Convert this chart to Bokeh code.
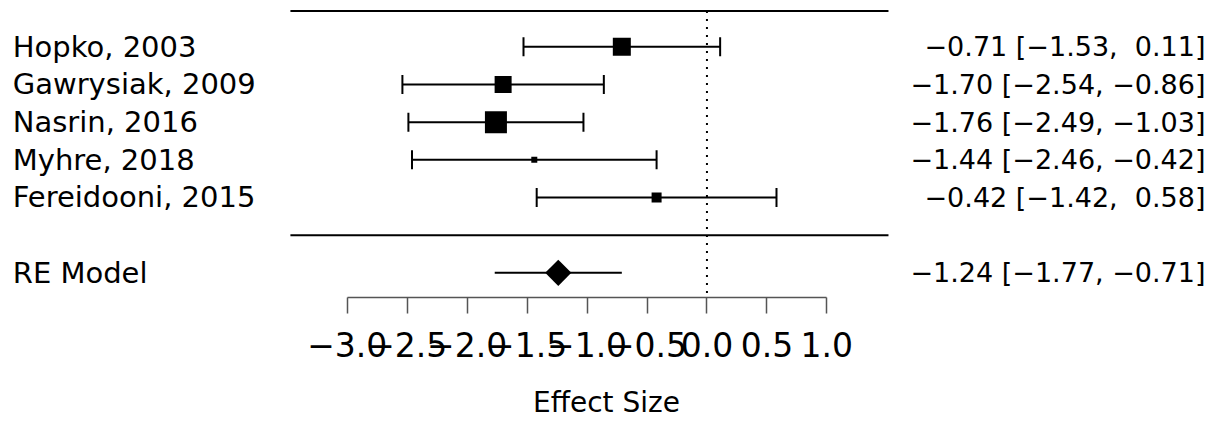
import numpy as np
from bokeh.plotting import figure
from bokeh.models import Range1d, LinearAxis, FixedTicker, CustomJSTickFormatter, ColumnDataSource
from bokeh.core.properties import value
from bokeh.embed import file_html
from bokeh.resources import INLINE

# ---- data ----
studies = ["Hopko, 2003", "Gawrysiak, 2009", "Nasrin, 2016", "Myhre, 2018", "Fereidooni, 2015"]
estimate = [-0.71, -1.70, -1.76, -1.44, -0.42]
ci_lower = [-1.53, -2.54, -2.49, -2.46, -1.42]
ci_upper = [0.11, -0.86, -1.03, -0.42, 0.58]
box_weight = [18, 17, 22, 6, 10]   # relative box sizes

model_label = "RE Model"
model_est = -1.24
model_lower = -1.77
model_upper = -0.71

x_ticks = [-3.0, -2.5, -2.0, -1.5, -1.0, -0.5, 0.0, 0.5, 1.0]
x_title = "Effect Size"

# ---- layout constants ----
FONT = "DejaVu Sans"
W, H = 1212, 421
FRAME_H = 297
k = len(studies)
rows = list(range(k, 0, -1))
model_row = -1
TOP_ROW = k + 0.95
SEP_ROW = 0
Y_TOP = 6.229
Y_BOT = Y_TOP - FRAME_H / 37.67
X_LEFT = -5.892
X_RIGHT = X_LEFT + W / 119.9
LINE_X0, LINE_X1 = -3.474, 1.514
LABEL_X = -5.79
RIGHT_X = 4.158

def fmt(v, width=5):
    s = f"{v:.2f}".replace("-", "\u2212")
    return "\u00a0" * (width - len(s)) + s

right_text = [f"{fmt(e)} [{fmt(l)}, {fmt(u)}]" for e, l, u in zip(estimate, ci_lower, ci_upper)]
model_text = f"{fmt(model_est)} [{fmt(model_lower)}, {fmt(model_upper)}]"

p = figure(width=W, height=H, output_backend="svg", toolbar_location=None,
           x_range=Range1d(X_LEFT, X_RIGHT), y_range=Range1d(Y_BOT, Y_TOP),
           min_border_left=0, min_border_right=0, min_border_top=0, min_border_bottom=H - FRAME_H,
           x_axis_location=None, y_axis_location=None)
p.outline_line_color = None
p.xgrid.visible = False
p.ygrid.visible = False
p.background_fill_color = "white"
p.border_fill_color = "white"

src = ColumnDataSource(dict(study=studies, est=estimate, lb=ci_lower, ub=ci_upper,
                            row=rows, size=box_weight, rtext=right_text))

# horizontal rules
p.segment(x0=[LINE_X0, LINE_X0], x1=[LINE_X1, LINE_X1], y0=[TOP_ROW, SEP_ROW], y1=[TOP_ROW, SEP_ROW],
          line_color="black", line_width=2)
# reference line at 0
p.segment(x0=[0], x1=[0], y0=[TOP_ROW], y1=[Y_BOT], line_color="black", line_width=2, line_dash="2 6")

# CIs
p.segment(x0="lb", x1="ub", y0="row", y1="row", source=src, line_color="black", line_width=2)
p.scatter(x="lb", y="row", source=src, marker="dash", angle=np.pi / 2, size=19, line_color="black", line_width=2)
p.scatter(x="ub", y="row", source=src, marker="dash", angle=np.pi / 2, size=19, line_color="black", line_width=2)
p.scatter(x="est", y="row", source=src, marker="square", size="size", fill_color="black", line_color="black", line_width=0)

# model
p.segment(x0=[model_lower], x1=[model_upper], y0=[model_row], y1=[model_row], line_color="black", line_width=2)
p.scatter(x=[model_est], y=[model_row], marker="square", angle=np.pi / 4, size=18.5,
          fill_color="black", line_color="black", line_width=0)

# texts
p.text(x=LABEL_X, y="row", text="study", source=src, text_font=value(FONT), text_font_size="29px",
       text_align="left", text_baseline="middle", text_color="black")
p.text(x=RIGHT_X, y="row", text="rtext", source=src, text_font=value(FONT), text_font_size="27px",
       text_align="right", text_baseline="middle", text_color="black")
p.text(x=[LABEL_X], y=[model_row], text=[model_label], text_font=value(FONT), text_font_size="29px",
       text_align="left", text_baseline="middle", text_color="black")
p.text(x=[RIGHT_X], y=[model_row], text=[model_text], text_font=value(FONT), text_font_size="27px",
       text_align="right", text_baseline="middle", text_color="black")

# x axis
ax = LinearAxis(bounds=(x_ticks[0], x_ticks[-1]), ticker=FixedTicker(ticks=x_ticks),
                formatter=CustomJSTickFormatter(code="return tick.toFixed(1).replace('-', '\\u2212');"))
ax.axis_line_color = "#555555"
ax.axis_line_width = 1.5
ax.major_tick_line_color = "#555555"
ax.major_tick_line_width = 1.5
ax.major_tick_out = 16
ax.major_tick_in = 0
ax.minor_tick_out = 0
ax.minor_tick_in = 0
ax.major_label_text_font = FONT
ax.major_label_text_font_size = "33px"
ax.major_label_text_color = "black"
ax.major_label_standoff = 18
ax.axis_label = x_title
ax.axis_label_text_font = FONT
ax.axis_label_text_font_size = "28px"
ax.axis_label_text_font_style = "normal"
ax.axis_label_text_color = "black"
ax.axis_label_standoff = 26
p.add_layout(ax, "below")

open("out.html", "w").write(file_html(p, INLINE))
